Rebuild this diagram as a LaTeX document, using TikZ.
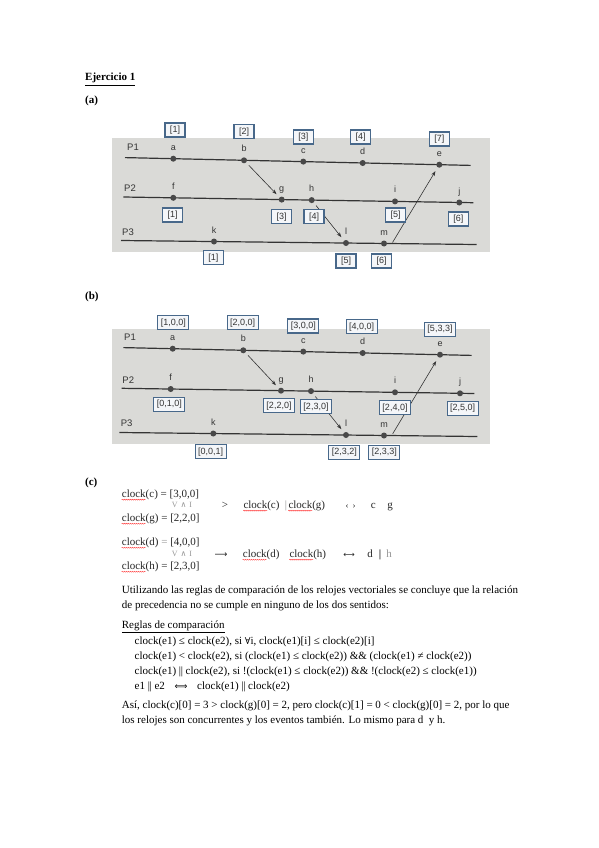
\documentclass[tikz,border=0pt]{standalone}
\usepackage{fontspec}
\setmainfont{Liberation Serif}
\setsansfont{Liberation Sans}
\newfontfamily\symf{DejaVu Serif}
\newfontfamily\arrf{DejaVu Sans}
\usetikzlibrary{arrows.meta,decorations.pathmorphing}
\definecolor{photobg}{RGB}{218,218,215}
\definecolor{ink}{RGB}{52,52,52}
\definecolor{boxedge}{RGB}{72,104,138}
\definecolor{boxfill}{RGB}{244,246,249}
\definecolor{faint}{RGB}{150,150,150}
\newcommand\evt[4]{\node[ev] (#1) at (#2,#3) {}; \node[evlab, anchor=base] (#1l) at ([yshift=8.5pt]#1.center) {#4};}
\newcommand\dbar{|\kern-0.4pt|}
\begin{document}
\begin{tikzpicture}[x=1pt,y=-1pt,
  txt/.style={anchor=base west, inner sep=0pt, font=\fontsize{11}{13}\selectfont},
  bold/.style={anchor=base west, inner sep=0pt, font=\fontsize{11}{13}\selectfont\bfseries},
  ctx/.style={anchor=base west, inner sep=0pt, text=black!85, font=\fontsize{11}{13}\selectfont},
  ctc/.style={ctx, anchor=base},
  procline/.style={draw=ink, line width=1.2pt},
  ev/.style={circle, fill=ink!90, inner sep=0pt, minimum size=6pt},
  evlab/.style={font=\sffamily\fontsize{9}{10}\selectfont, text=ink, inner sep=0pt},
  plab/.style={font=\sffamily\fontsize{9.5}{10}\selectfont, text=ink, inner sep=0pt},
  tbox/.style={draw=boxedge, line width=1.1pt, fill=boxfill, font=\sffamily\fontsize{9}{10}\selectfont, text=ink, inner xsep=3pt, inner ysep=0pt, minimum height=14pt},
  msg/.style={draw=ink, line width=0.6pt, -{Stealth[length=5pt,width=3.6pt]}, shorten >=7.5pt},
  squig/.style={draw=red!80, line width=0.4pt, decorate, decoration={snake, amplitude=0.5pt, segment length=2pt}},
]
\fill[white] (0,0) rectangle (599,848);
\useasboundingbox (0,0) rectangle (599,848);

% headings
\node[bold] (title) at (85,81) {\underline{Ejercicio 1}};
\node[bold] (ha) at (85,104) {(a)};
\node[bold] (hb) at (85,299) {(b)};
\node[bold] (hc) at (85,485.5) {(c)};

% ================= diagram (a)
\fill[photobg] (112,138) rectangle (490,252);
\coordinate (a1s) at (125,157.6); \coordinate (a1e) at (470.7,165.4);
\coordinate (a2s) at (123.3,197.0); \coordinate (a2e) at (473.3,202.7);
\coordinate (a3s) at (121,240.5); \coordinate (a3e) at (476.7,244.5);
\draw[procline] (a1s) -- (a1e);
\draw[procline] (a2s) -- (a2e);
\draw[procline] (a3s) -- (a3e);
\node[plab] (aP1) at (133,147.3) {P1};
\node[plab] (aP2) at (130,187.7) {P2};
\node[plab] (aP3) at (128,232.7) {P3};
\evt{aa}{173.3}{158.7}{a}
\evt{ab}{244}{160.3}{b}
\evt{ac}{303.3}{161.6}{c}
\evt{ad}{362.7}{163.0}{d}
\evt{ae}{439.3}{164.7}{e}
\evt{af}{173.3}{197.8}{f}
\evt{ag}{281.7}{199.6}{g}
\evt{ah}{311.7}{200.1}{h}
\evt{ai}{395}{201.4}{i}
\evt{aj}{459.3}{202.5}{j}
\evt{ak}{214}{241.5}{k}
\evt{al}{346}{243.0}{l}
\evt{am}{384}{243.5}{m}
\coordinate (amx) at (392.5,242.5);
\draw[msg, shorten <=7pt] (ab.center) -- (ag.center);
\draw[msg, shorten <=7pt] (ah.center) -- (al.center);
\draw[msg] (amx) -- (ae.center);
\begin{scope}[every node/.style={tbox, minimum width=20pt}]
\node (xa1) at (175,130) {[1]};
\node (xa2) at (244,131.7) {[2]};
\node (xa3) at (303.3,137) {[3]};
\node (xa4) at (360.7,137) {[4]};
\node (xa7) at (439.3,139) {[7]};
\node (xf1) at (172.7,215) {[1]};
\node (xg3) at (281.7,216.7) {[3]};
\node (xh4) at (314,216.7) {[4]};
\node (xi5) at (395.7,215) {[5]};
\node (xj6) at (458.3,219) {[6]};
\node (xk1) at (213.3,257.7) {[1]};
\node (xl5) at (346,261) {[5]};
\node (xm6) at (381.7,261) {[6]};
\end{scope}

% ================= diagram (b)
\fill[photobg] (112,329) rectangle (490,444);
\coordinate (b1s) at (123.3,347.6); \coordinate (b1e) at (471.7,355.4);
\coordinate (b2s) at (121.7,388.3); \coordinate (b2e) at (474.3,393.5);
\coordinate (b3s) at (119.3,432.5); \coordinate (b3e) at (477.3,436.5);
\draw[procline] (b1s) -- (b1e);
\draw[procline] (b2s) -- (b2e);
\draw[procline] (b3s) -- (b3e);
\node[plab] (bP1) at (130,337.3) {P1};
\node[plab] (bP2) at (128.3,380) {P2};
\node[plab] (bP3) at (126.7,423.3) {P3};
\evt{ba}{172.7}{348.7}{a}
\evt{bb}{243.3}{350.3}{b}
\evt{bc}{303.3}{351.6}{c}
\evt{bd}{362.7}{353.0}{d}
\evt{be}{440}{354.7}{e}
\evt{bf}{170.7}{389.0}{f}
\evt{bg}{281}{390.7}{g}
\evt{bh}{311}{391.1}{h}
\evt{bi}{395}{392.3}{i}
\evt{bj}{460}{393.3}{j}
\evt{bk}{213.3}{433.5}{k}
\evt{bl}{346}{435.0}{l}
\evt{bm}{384}{435.5}{m}
\coordinate (bmx) at (392.7,433.8);
\draw[msg, shorten <=7pt] (bb.center) -- (bg.center);
\draw[msg, shorten <=7pt] (bh.center) -- (bl.center);
\draw[msg] (bmx) -- (be.center);
\begin{scope}[every node/.style={tbox}]
\node (ya) at (173.3,322.7) {[1,0,0]};
\node (yb) at (242.7,322.7) {[2,0,0]};
\node (yc) at (303.3,326) {[3,0,0]};
\node (yd) at (361.7,326.7) {[4,0,0]};
\node (ye) at (440,329.3) {[5,3,3]};
\node (yf) at (169.3,404.3) {[0,1,0]};
\node (yg) at (279,405.7) {[2,2,0]};
\node (yh) at (316,406.7) {[2,3,0]};
\node (yi) at (395,407.7) {[2,4,0]};
\node (yj) at (462.7,408.3) {[2,5,0]};
\node (yk) at (210.7,451.7) {[0,0,1]};
\node (yl) at (344.3,452.3) {[2,3,2]};
\node (ym) at (384.3,452.3) {[2,3,3]};
\end{scope}

% ================= (c)
\node[ctx] (c1) at (121.7,497.5) {clock(c) = [3,0,0]};
\node[ctc, text=faint, font=\fontsize{8}{9}\selectfont] (c1m) at (182,507.5) {V\hspace{3pt}{\symf ∧}\hspace{3pt}I};
\node[ctc] (c1r) at (225,508.5) {>};
\node[ctx] (c1x) at (243.3,508.5) {clock(c)};
\node[ctc, text=faint] (c1bar) at (286,508.5) {|};
\node[ctx] (c1y) at (288.3,508.5) {clock(g)};
\node[ctc, font=\fontsize{9}{10}\selectfont] (c1iff) at (350.5,508.5) {‹\hspace{4pt}›};
\node[ctc] (c1c) at (373.3,508.5) {c};
\node[ctc] (c1g) at (390,508.5) {g};
\node[ctx] (c2) at (121.7,521.5) {clock(g) = [2,2,0]};

\node[ctx] (d1) at (121.7,545.5) {clock(d) \textcolor{faint}{=} [4,0,0]};
\node[ctc, text=faint, font=\fontsize{8}{9}\selectfont] (d1m) at (182,556.5) {V\hspace{3pt}{\symf ∧}\hspace{3pt}I};
\node[ctc, font=\arrf\fontsize{9}{10}\selectfont] (d1r) at (221,557.5) {⟶};
\node[ctx] (d1x) at (242.7,557.5) {clock(d)};
\node[ctx] (d1y) at (289.3,557.5) {clock(h)};
\node[ctc, font=\arrf\fontsize{8}{10}\selectfont] (d1iff) at (349,557.5) {⟷};
\node[ctc] (d1d) at (370,557.5) {d};
\node[ctc, font=\fontsize{11}{13}\selectfont\bfseries] (d1bar) at (380,557.5) {|};
\node[ctc, text=faint] (d1h) at (389,557.5) {h};
\node[ctx] (d2) at (121.7,569.5) {clock(h) = [2,3,0]};

\foreach \n in {c1,c1x,c1y,c2,d1,d1x,d1y,d2}{
  \draw[squig] ([yshift=-2.2pt]\n.base west) -- ++(24,0);
}

% ================= text
\node[txt] (t1) at (121.7,593.5) {Utilizando las reglas de comparación de los relojes vectoriales se concluye que la relación};
\node[txt] (t2) at (121.7,608.5) {de precedencia no se cumple en ninguno de los dos sentidos:};
\node[txt] (t3) at (121.7,628.5) {\underline{Reglas de comparación}};
\node[txt] (r1) at (134.5,644) {clock(e1) ≤ clock(e2), si {\symf\fontsize{9.5}{11}\selectfont ∀}i, clock(e1)[i] ≤ clock(e2)[i]};
\node[txt] (r2) at (134.5,659) {clock(e1) < clock(e2), si (clock(e1) ≤ clock(e2)) \&\& (clock(e1) ≠ clock(e2))};
\node[txt] (r3) at (134.5,674.2) {clock(e1) \dbar{} clock(e2), si !(clock(e1) ≤ clock(e2)) \&\& !(clock(e2) ≤ clock(e1))};
\node[txt] (r4a) at (134.5,689.5) {e1 \dbar{} e2};
\node[txt, anchor=base, font=\arrf\fontsize{9}{10}\selectfont] (r4b) at (181,689.5) {⟺};
\node[txt] (r4c) at (197,689.5) {clock(e1) \dbar{} clock(e2)};
\node[txt] (t4) at (121.7,708.5) {Así, clock(c)[0] = 3 > clock(g)[0] = 2, pero clock(c)[1] = 0 < clock(g)[0] = 2, por lo que};
\node[txt] (t5) at (121.7,723.5) {los relojes son concurrentes y los eventos también. Lo mismo para d\ \ y h.};
\end{tikzpicture}
\end{document}
